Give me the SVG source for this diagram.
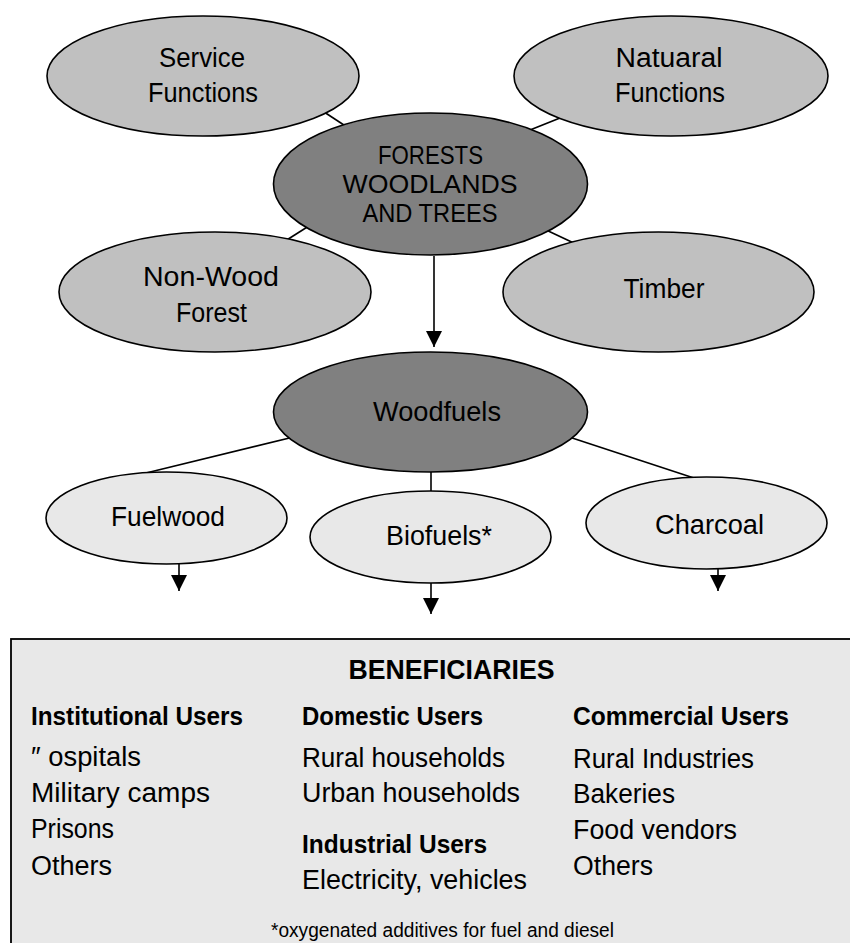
<svg xmlns="http://www.w3.org/2000/svg" width="850" height="943" viewBox="0 0 850 943">
<style>
  .n { stroke: #000; stroke-width: 1.6; }
  .l1 { fill: #c0c0c0; }
  .dk { fill: #808080; }
  .lt { fill: #e8e8e8; }
  .c { stroke: #000; stroke-width: 1.6; fill: none; }
  text { font-family: "Liberation Sans", Arial, sans-serif; fill: #000; }
  .lbl { font-size: 27px; text-anchor: middle; }
  .lbl2 { font-size: 26px; text-anchor: middle; }
  .it { font-size: 27px; }
  .hd { font-size: 26px; font-weight: bold; }
</style>
<defs>
  <marker id="ah" markerUnits="userSpaceOnUse" markerWidth="16" markerHeight="16" viewBox="0 0 16 16" refX="16" refY="8" orient="auto">
    <path d="M0,0 L16,8 L0,16 z" fill="#000"/>
  </marker>
</defs>

<g id="beneficiaries">
  <rect x="11" y="639" width="860" height="320" fill="#e8e8e8" stroke="#000" stroke-width="1.8"/>
  <text x="451.5" y="679" font-size="27" font-weight="bold" text-anchor="middle" textLength="206" lengthAdjust="spacingAndGlyphs">BENEFICIARIES</text>
  <text class="hd" x="31" y="725" textLength="212" lengthAdjust="spacingAndGlyphs">Institutional Users</text>
  <text class="it" x="31" y="766" textLength="110" lengthAdjust="spacingAndGlyphs">″ ospitals</text>
  <text class="it" x="31" y="802" textLength="179" lengthAdjust="spacingAndGlyphs">Military camps</text>
  <text class="it" x="31" y="838" textLength="83" lengthAdjust="spacingAndGlyphs">Prisons</text>
  <text class="it" x="31" y="875" textLength="81" lengthAdjust="spacingAndGlyphs">Others</text>
  <text class="hd" x="302" y="725" textLength="181" lengthAdjust="spacingAndGlyphs">Domestic Users</text>
  <text class="it" x="302" y="767" textLength="203" lengthAdjust="spacingAndGlyphs">Rural households</text>
  <text class="it" x="302" y="802" textLength="218" lengthAdjust="spacingAndGlyphs">Urban households</text>
  <text class="hd" x="302" y="853" textLength="185" lengthAdjust="spacingAndGlyphs">Industrial Users</text>
  <text class="it" x="302" y="889" textLength="225" lengthAdjust="spacingAndGlyphs">Electricity, vehicles</text>
  <text class="hd" x="573" y="725" textLength="216" lengthAdjust="spacingAndGlyphs">Commercial Users</text>
  <text class="it" x="573" y="768" textLength="181" lengthAdjust="spacingAndGlyphs">Rural Industries</text>
  <text class="it" x="573" y="803" textLength="102" lengthAdjust="spacingAndGlyphs">Bakeries</text>
  <text class="it" x="573" y="839" textLength="164" lengthAdjust="spacingAndGlyphs">Food vendors</text>
  <text class="it" x="573" y="875" textLength="80" lengthAdjust="spacingAndGlyphs">Others</text>
  <text x="442.5" y="937" font-size="20" text-anchor="middle" textLength="343" lengthAdjust="spacingAndGlyphs">*oxygenated additives for fuel and diesel</text>
</g>

<g id="connectors">
  <line class="c" x1="318" y1="108" x2="350" y2="129"/>
  <line class="c" x1="565" y1="116" x2="525" y2="132"/>
  <line class="c" x1="282" y1="243" x2="312" y2="224"/>
  <line class="c" x1="544" y1="229" x2="578" y2="245"/>
  <line class="c" x1="310" y1="433" x2="146" y2="473"/>
  <line class="c" x1="560" y1="434" x2="700" y2="480"/>
  <line class="c" x1="431" y1="468" x2="431" y2="493"/>
  <line class="c" x1="434" y1="256" x2="434" y2="347" marker-end="url(#ah)"/>
  <line class="c" x1="179" y1="564" x2="179" y2="591" marker-end="url(#ah)"/>
  <line class="c" x1="431" y1="583" x2="431" y2="614" marker-end="url(#ah)"/>
  <line class="c" x1="718" y1="569" x2="718" y2="591" marker-end="url(#ah)"/>
</g>

<g id="service-functions">
  <ellipse class="n l1" cx="203" cy="76" rx="156" ry="60"/>
  <text class="lbl" x="202" y="67" textLength="86" lengthAdjust="spacingAndGlyphs">Service</text>
  <text class="lbl" x="203" y="102" textLength="110" lengthAdjust="spacingAndGlyphs">Functions</text>
</g>
<g id="natuaral-functions">
  <ellipse class="n l1" cx="671" cy="76" rx="157" ry="60"/>
  <text class="lbl" x="669" y="67" textLength="107" lengthAdjust="spacingAndGlyphs">Natuaral</text>
  <text class="lbl" x="670" y="102" textLength="110" lengthAdjust="spacingAndGlyphs">Functions</text>
</g>
<g id="non-wood-forest">
  <ellipse class="n l1" cx="215" cy="292" rx="156" ry="60"/>
  <text class="lbl" x="211" y="286" textLength="136" lengthAdjust="spacingAndGlyphs">Non-Wood</text>
  <text class="lbl" x="211.5" y="322" textLength="71" lengthAdjust="spacingAndGlyphs">Forest</text>
</g>
<g id="timber">
  <ellipse class="n l1" cx="658.5" cy="292" rx="155.5" ry="60"/>
  <text class="lbl" x="664" y="298" textLength="81" lengthAdjust="spacingAndGlyphs">Timber</text>
</g>
<g id="forests">
  <ellipse class="n dk" cx="430.5" cy="184" rx="157" ry="71"/>
  <text class="lbl2" x="430.5" y="164" textLength="105" lengthAdjust="spacingAndGlyphs">FORESTS</text>
  <text class="lbl2" x="430" y="193" textLength="175" lengthAdjust="spacingAndGlyphs">WOODLANDS</text>
  <text class="lbl2" x="430" y="222" textLength="135" lengthAdjust="spacingAndGlyphs">AND TREES</text>
</g>
<g id="woodfuels">
  <ellipse class="n dk" cx="430.5" cy="412" rx="157" ry="60"/>
  <text class="lbl" x="437" y="421" textLength="128" lengthAdjust="spacingAndGlyphs">Woodfuels</text>
</g>
<g id="fuelwood">
  <ellipse class="n lt" cx="166.5" cy="518" rx="120.5" ry="46"/>
  <text class="lbl" x="168" y="526" textLength="114" lengthAdjust="spacingAndGlyphs">Fuelwood</text>
</g>
<g id="biofuels">
  <ellipse class="n lt" cx="430.5" cy="537" rx="120.5" ry="46"/>
  <text class="lbl" x="439" y="545" textLength="106" lengthAdjust="spacingAndGlyphs">Biofuels*</text>
</g>
<g id="charcoal">
  <ellipse class="n lt" cx="706.5" cy="523" rx="120.5" ry="46"/>
  <text class="lbl" x="709.5" y="534" textLength="109" lengthAdjust="spacingAndGlyphs">Charcoal</text>
</g>
</svg>
